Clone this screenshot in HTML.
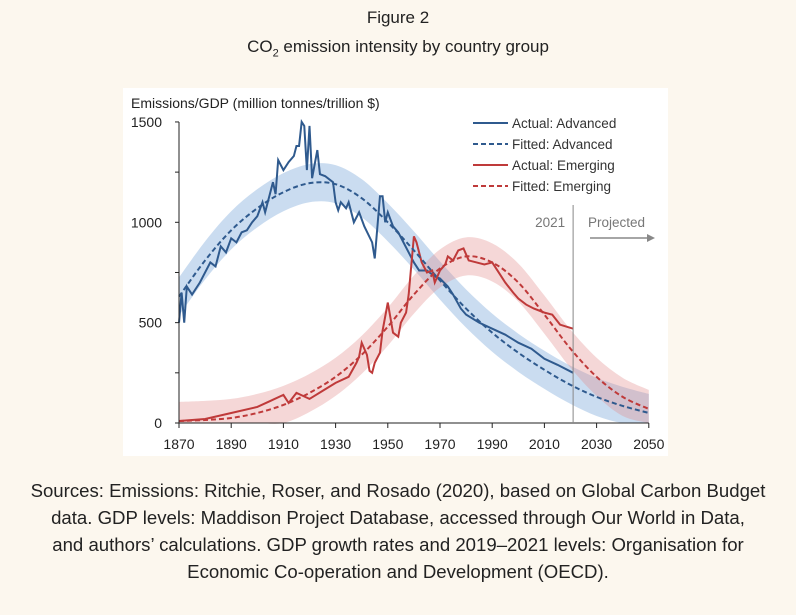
<!DOCTYPE html>
<html><head><meta charset="utf-8"><style>
body{margin:0;width:796px;height:615px;background:#fcf7ee;font-family:"Liberation Sans",sans-serif;overflow:hidden;position:relative}
.t{position:absolute;left:0;width:796px;text-align:center;color:#222;font-size:17px}
.s{position:absolute;left:0;width:796px;text-align:center;color:#222;font-size:18.6px;line-height:27px;top:477px;white-space:nowrap}
</style></head><body>
<div class="t" style="top:8px">Figure 2</div>
<div class="t" style="top:37px">CO<sub style="font-size:11px">2</sub> emission intensity by country group</div>
<svg width="796" height="615" style="position:absolute;left:0;top:0" id="svg">
<rect x="123" y="88" width="545" height="368" fill="#fff"/>
</svg>
<div class="s">Sources: Emissions: Ritchie, Roser, and Rosado (2020), based on Global Carbon Budget<br>data. GDP levels: Maddison Project Database, accessed through Our World in Data,<br>and authors’ calculations. GDP growth rates and 2019–2021 levels: Organisation for<br>Economic Co-operation and Development (OECD).</div>
<script>
const advYears=[1870,1871,1872,1873,1875,1878,1880,1882,1884,1886,1888,1890,1892,1894,1896,1898,1900,1902,1903,1905,1906,1907,1908,1910,1912,1914,1915,1916,1917,1918,1919,1920,1921,1923,1924,1926,1928,1929,1930,1931,1932,1934,1935,1937,1939,1941,1944,1945,1947,1948,1949,1950,1952,1954,1956,1958,1960,1962,1965,1968,1970,1973,1975,1978,1980,1985,1990,1995,2000,2005,2010,2015,2021];
const advActual=[500,650,500,680,640,700,750,800,780,880,850,920,900,950,960,1000,1030,1100,1050,1150,1200,1140,1310,1260,1300,1330,1380,1380,1500,1480,1260,1480,1220,1360,1240,1230,1210,1200,1100,1060,1100,1070,1100,1000,1050,980,900,820,1130,1130,1000,1050,980,950,900,850,800,760,760,730,720,680,640,570,540,500,470,440,400,370,320,290,250];
const emYears=[1870,1880,1890,1900,1905,1910,1912,1915,1920,1925,1930,1935,1938,1939,1940,1942,1943,1944,1945,1947,1948,1950,1952,1954,1955,1957,1958,1960,1961,1963,1965,1967,1968,1970,1972,1973,1975,1977,1979,1981,1984,1987,1990,1992,1995,1998,2000,2003,2006,2010,2013,2016,2021];
const emActual=[10,20,50,80,110,140,100,150,120,160,200,230,300,330,400,340,260,250,300,350,460,600,450,430,500,550,640,930,900,800,750,760,700,760,790,830,810,860,870,810,800,790,800,760,700,650,620,590,570,550,540,490,470];
const fitYears=[1870,1880,1890,1900,1910,1920,1930,1940,1950,1960,1970,1980,1990,2000,2010,2020,2030,2040,2050];
const advFitted=[630,810,960,1070,1150,1195,1190,1120,1000,860,710,570,450,350,265,190,130,85,50];
const emFitted=[10,15,25,50,90,150,230,340,480,640,770,830,800,700,540,370,230,130,70];
const xTicks=[1870,1890,1910,1930,1950,1970,1990,2010,2030,2050];
const yTicks=[0,500,1000,1500];
const band=95;
const X=y=>179+(y-1870)*2.61, Y=v=>423-v*0.2007;
const svg=document.getElementById('svg'),NS='http://www.w3.org/2000/svg';
function mk(t,a,name){const e=document.createElementNS(NS,t);for(const k in a)e.setAttribute(k,a[k]);


svg.appendChild(e);return e;}
function smooth(xs,vs){const p=xs.map((x,i)=>[X(x),Y(vs[i])]);let d='M'+p[0][0]+','+p[0][1];
for(let i=0;i<p.length-1;i++){const p0=p[Math.max(0,i-1)],p1=p[i],p2=p[i+1],p3=p[Math.min(p.length-1,i+2)];
d+=` C${p1[0]+(p2[0]-p0[0])/6},${p1[1]+(p2[1]-p0[1])/6} ${p2[0]-(p3[0]-p1[0])/6},${p2[1]-(p3[1]-p1[1])/6} ${p2[0]},${p2[1]}`;}return d;}
function bandPath(vs){const up=smooth(fitYears,vs.map(v=>v+band));const lo=smooth(fitYears.slice().reverse(),vs.map(v=>Math.max(v-band,0)).reverse());return up+' L'+lo.slice(1)+' Z';}
mk('path',{d:bandPath(advFitted),fill:'rgba(150,185,225,0.5)'},'advanced-band');
mk('path',{d:bandPath(emFitted),fill:'rgba(225,140,140,0.35)'},'emerging-band');
const line=(xs,vs)=>'M'+xs.map((x,i)=>X(x)+','+Y(vs[i])).join(' L');
mk('path',{d:line(advYears,advActual),fill:'none',stroke:'#2f5a8e','stroke-width':2},'actual-advanced-line');
mk('path',{d:line(emYears,emActual),fill:'none',stroke:'#bf3a3a','stroke-width':2},'actual-emerging-line');
mk('path',{d:smooth(fitYears,advFitted),fill:'none',stroke:'#2f5a8e','stroke-width':2,'stroke-dasharray':'5,3'},'fitted-advanced-line');
mk('path',{d:smooth(fitYears,emFitted),fill:'none',stroke:'#bf3a3a','stroke-width':2,'stroke-dasharray':'5,3'},'fitted-emerging-line');
mk('line',{x1:179,y1:Y(1500),x2:179,y2:423,stroke:'#222'},'y-axis');
mk('line',{x1:179,y1:423,x2:X(2050),y2:423,stroke:'#222'},'x-axis');
yTicks.forEach(v=>{mk('line',{x1:175,x2:179,y1:Y(v),y2:Y(v),stroke:'#222'},'y-tick');
if(v<1500){mk('line',{x1:175,x2:179,y1:Y(v+250),y2:Y(v+250),stroke:'#222'},'y-minor-tick');}
const t=mk('text',{x:162,y:Y(v)+5,'text-anchor':'end','font-size':14,fill:'#222'},'y-tick-label');t.textContent=v;});
xTicks.forEach(v=>{mk('line',{x1:X(v),x2:X(v),y1:423,y2:428,stroke:'#222'},'x-tick');
const t=mk('text',{x:X(v),y:449,'text-anchor':'middle','font-size':14,fill:'#222'},'x-tick-label');t.textContent=v;});
const yt=mk('text',{x:131,y:108,'font-size':14,fill:'#222'},'y-axis-title');yt.textContent='Emissions/GDP (million tonnes/trillion $)';
mk('line',{x1:X(2021),x2:X(2021),y1:205,y2:423,stroke:'#888'},'projection-line');
let t=mk('text',{x:X(2021)-8,y:227,'text-anchor':'end','font-size':13.5,fill:'#777'},'year-2021-label');t.textContent='2021';
t=mk('text',{x:588,y:227,'font-size':13.5,fill:'#777'},'projected-label');t.textContent='Projected';
mk('line',{x1:590,x2:648,y1:238,y2:238,stroke:'#888','stroke-width':1.5},'projected-arrow');
mk('path',{d:'M647,234 L655,238 L647,242 Z',fill:'#888'},'projected-arrowhead');
[['Actual: Advanced','#2f5a8e',0],['Fitted: Advanced','#2f5a8e',1],['Actual: Emerging','#bf3a3a',0],['Fitted: Emerging','#bf3a3a',1]].forEach((l,i)=>{
const y=123+i*21;mk('line',{x1:473,x2:508,y1:y,y2:y,stroke:l[1],'stroke-width':2,'stroke-dasharray':l[2]?'5,3':'none'},'legend-swatch');
const tt=mk('text',{x:512,y:y+5,'font-size':13.5,fill:'#333'},'legend-entry');tt.textContent=l[0];});
</script>
</body></html>
